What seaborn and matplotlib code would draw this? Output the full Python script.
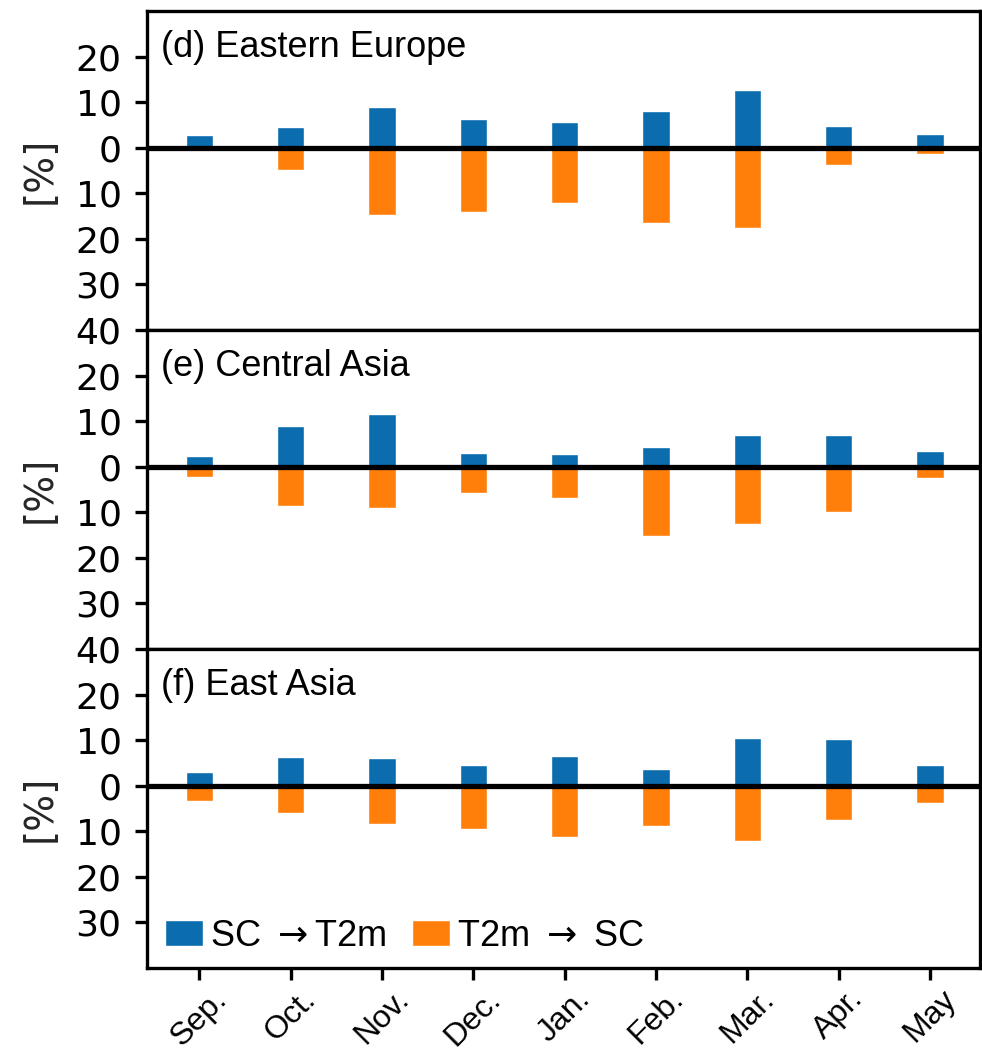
import matplotlib
matplotlib.use("Agg")
import matplotlib.pyplot as plt
import pandas as pd
import seaborn as sns

# Data (percent)
months = ['Sep.', 'Oct.', 'Nov.', 'Dec.', 'Jan.', 'Feb.', 'Mar.', 'Apr.', 'May']
regions = ['(d) Eastern Europe', '(e) Central Asia', '(f) East Asia']

sc_t2m_ee = [2.7, 4.5, 8.9, 6.3, 5.7, 8.1, 12.7, 4.8, 3.0]
t2m_sc_ee = [0.3, 4.8, 14.8, 14.1, 12.2, 16.5, 17.7, 3.7, 1.3]

sc_t2m_ca = [2.4, 9.0, 11.6, 3.1, 2.7, 4.3, 7.0, 7.0, 3.4]
t2m_sc_ca = [2.2, 8.6, 9.0, 5.8, 6.9, 15.3, 12.5, 9.9, 2.5]

sc_t2m_ea = [3.1, 6.3, 6.1, 4.5, 6.6, 3.7, 10.4, 10.2, 4.5]
t2m_sc_ea = [3.4, 6.0, 8.3, 9.5, 11.3, 8.9, 12.2, 7.5, 3.7]

series_up = [sc_t2m_ee, sc_t2m_ca, sc_t2m_ea]
series_down = [t2m_sc_ee, t2m_sc_ca, t2m_sc_ea]

blue = '#0b6cae'
orange = '#ff7f0a'
helv = ['Liberation Sans', 'DejaVu Sans']

sns.set_style("ticks")
plt.rcParams['font.family'] = ['DejaVu Sans']
plt.rcParams['axes.linewidth'] = 2.4
plt.rcParams['axes.edgecolor'] = 'black'
plt.rcParams['text.color'] = 'black'
plt.rcParams['xtick.color'] = 'black'
plt.rcParams['ytick.color'] = 'black'

fig, axes = plt.subplots(3, 1, figsize=(9.82, 10.56), dpi=100, sharex=True)
fig.subplots_adjust(left=0.15, right=0.998, top=0.9896, bottom=0.0833, hspace=0)

for i, ax in enumerate(axes):
    df = pd.DataFrame({'month': months,
                       'up': series_up[i],
                       'down': [-v for v in series_down[i]]})
    sns.barplot(data=df, x='month', y='up', color=blue, width=0.3,
                saturation=1, ax=ax, label='SC $\\rightarrow$T2m')
    sns.barplot(data=df, x='month', y='down', color=orange, width=0.3,
                saturation=1, ax=ax, label='T2m $\\rightarrow$ SC')
    ax.axhline(0, color='black', lw=3.8, zorder=5)
    ax.set_ylim(-40, 30)
    ax.set_xlim(-0.57, 8.55)
    if i < 2:
        yt = [-40, -30, -20, -10, 0, 10, 20]
    else:
        yt = [-30, -20, -10, 0, 10, 20]
    ax.set_yticks(yt)
    ax.set_yticklabels([str(abs(v)) for v in yt], fontsize=26)
    ax.tick_params(axis='y', length=8.5, width=2.4, pad=10)
    ax.set_ylabel('[%]', fontsize=28, labelpad=12)
    ax.set_xlabel('')
    ax.text(0.016, 0.94, regions[i], transform=ax.transAxes, ha='left', va='top',
            fontsize=26, family=helv)
    if i < 2:
        ax.tick_params(axis='x', length=0, labelbottom=False)
    if ax.get_legend() is not None:
        ax.get_legend().remove()

ax = axes[2]
ax.tick_params(axis='x', length=8.5, width=2.4, pad=3)
ax.set_xticks(range(len(months)))
ax.set_xticklabels(months)
for lbl in ax.get_xticklabels():
    lbl.set_family(helv)
    lbl.set_fontsize(23)
    lbl.set_rotation(45)
    lbl.set_ha('center')
leg = ax.legend(loc='lower left', ncol=2, frameon=False,
                prop={'family': helv, 'size': 26},
                handlelength=1.05, handleheight=0.72, handletextpad=0.2,
                columnspacing=0.7, borderpad=0, borderaxespad=0,
                bbox_to_anchor=(0.021, 0.045))

fig.savefig('out.png', dpi=100)
